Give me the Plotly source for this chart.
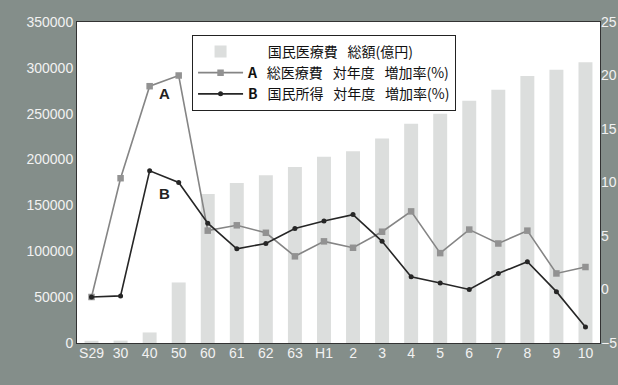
import plotly.graph_objects as go

categories = ["S29", "30", "40", "50", "60", "61", "62", "63", "H1", "2", "3",
              "4", "5", "6", "7", "8", "9", "10"]
total_cost = [2400, 2600, 11500, 66000, 162500, 174500, 183000, 192000, 203000,
              209000, 223000, 239000, 250000, 264000, 276000, 291000, 298000, 306000]
growth_a = [-0.7, 10.4, 19.0, 20.0, 5.5, 6.0, 5.3, 3.1, 4.5, 3.9, 5.4, 7.3,
            3.4, 5.6, 4.3, 5.5, 1.5, 2.1]
growth_b = [-0.7, -0.6, 11.1, 10.0, 6.2, 3.8, 4.3, 5.7, 6.4, 7.0, 4.5, 1.2,
            0.6, 0.0, 1.5, 2.6, -0.2, -3.5]

sp = "\u2002\u2009"
name_bar = "\u2003\u2009\u2009国民医療費" + sp + "総額(億円)"
name_a = "<b>A</b>\u2002\u2009総医療費" + sp + "対年度" + sp + "増加率(%)"
name_b = "<b>B</b>\u2002\u2009国民所得" + sp + "対年度" + sp + "増加率(%)"

jp_font = "Noto Sans CJK JP, Noto Sans, sans-serif"
num_font = "Liberation Sans, Arial, sans-serif"
bg = "#848e8a"

fig = go.Figure()
fig.add_trace(go.Bar(x=categories, y=total_cost, name=name_bar,
                     marker=dict(color="#dcdedd", line=dict(width=0)),
                     yaxis="y"))
fig.add_trace(go.Scatter(x=categories, y=growth_a, name=name_a, yaxis="y2",
                         mode="lines+markers",
                         line=dict(color="#858585", width=1.6),
                         marker=dict(symbol="square", size=6.5, color="#929292")))
fig.add_trace(go.Scatter(x=categories, y=growth_b, name=name_b, yaxis="y2",
                         mode="lines+markers",
                         line=dict(color="#262626", width=1.6),
                         marker=dict(symbol="circle", size=5, color="#262626")))

fig.add_annotation(x=2.5, y=18.3, xref="x", yref="y2", text="<b>A</b>",
                   showarrow=False, font=dict(family=num_font, size=15, color="#222"))
fig.add_annotation(x=2.5, y=9.0, xref="x", yref="y2", text="<b>B</b>",
                   showarrow=False, font=dict(family=num_font, size=15, color="#222"))

fig.update_layout(
    width=618, height=385,
    margin=dict(l=77, r=18, t=22, b=42, autoexpand=False),
    paper_bgcolor=bg,
    plot_bgcolor="white",
    bargap=0.52,
    showlegend=True,
    legend=dict(x=0.22, y=0.96, xanchor="left", yanchor="top",
                bgcolor="white", bordercolor="#222", borderwidth=1,
                font=dict(family=jp_font, size=14, color="#111"),
                tracegroupgap=0, itemwidth=45),
    xaxis=dict(type="category", range=[-0.5, len(categories) - 0.5],
               showgrid=False, showline=True, linecolor="#333",
               linewidth=1, mirror=True, ticks="", automargin=False,
               ticklabelstandoff=-3,
               tickfont=dict(family=num_font, size=14, color="#f2f2f2")),
    yaxis=dict(range=[0, 350000], dtick=50000, showgrid=False, zeroline=False,
               showline=True, linecolor="#333", linewidth=1, mirror=True,
               tickformat="d", ticks="", automargin=False,
               tickfont=dict(family=num_font, size=14, color="#f2f2f2")),
    yaxis2=dict(range=[-5, 25], dtick=5, overlaying="y", side="right",
                showgrid=False, zeroline=False, ticks="", automargin=False,
                tickfont=dict(family=num_font, size=14, color="#f2f2f2")),
)

fig.write_html("out.html")
